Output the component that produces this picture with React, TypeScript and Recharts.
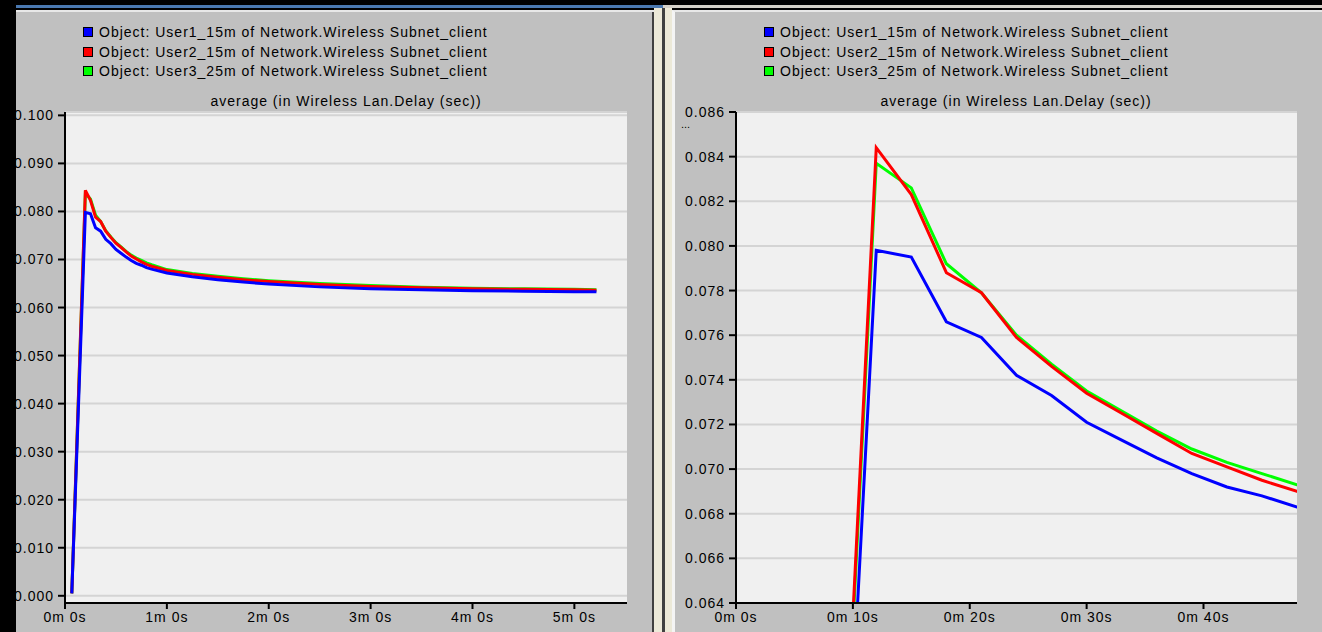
import React from "react";
import { LineChart, Line, XAxis, YAxis, CartesianGrid } from "recharts";

// sample times in seconds
const times = [4, 12, 15, 18, 21, 24, 27, 30, 33, 36, 39, 42, 45, 48, 51, 60, 75, 90, 105, 120, 150, 180, 210, 240, 270, 300, 313];

// average Wireless LAN delay (sec) per client
const user1Delay = [0.0005, 0.0798, 0.0795, 0.0766, 0.0759, 0.0742, 0.0733, 0.0721, 0.0713, 0.0705, 0.0698, 0.0692, 0.0688, 0.0683, 0.068, 0.0672, 0.0664, 0.0658, 0.0653, 0.0649, 0.0643, 0.0639, 0.0637, 0.0635, 0.0634, 0.0633, 0.0633];
const user2Delay = [0.0005, 0.0844, 0.0823, 0.0788, 0.0779, 0.0759, 0.0746, 0.0734, 0.0725, 0.0716, 0.0707, 0.0701, 0.0695, 0.069, 0.0686, 0.0677, 0.0669, 0.0663, 0.0658, 0.0654, 0.0648, 0.0644, 0.0641, 0.0639, 0.0638, 0.0637, 0.0636];
const user3Delay = [0.0005, 0.0837, 0.0826, 0.0792, 0.0779, 0.076, 0.0747, 0.0735, 0.0726, 0.0717, 0.0709, 0.0703, 0.0698, 0.0693, 0.0689, 0.0679, 0.0671, 0.0665, 0.066, 0.0656, 0.065, 0.0646, 0.0642, 0.064, 0.0639, 0.0638, 0.0637];

const legendItems = [
  { key: "user1", color: "#0000ff", label: "Object: User1_15m of Network.Wireless Subnet_client" },
  { key: "user2", color: "#ff0000", label: "Object: User2_15m of Network.Wireless Subnet_client" },
  { key: "user3", color: "#00ff00", label: "Object: User3_25m of Network.Wireless Subnet_client" },
];
// green under red under blue
const drawOrder = ["user3", "user2", "user1"];

const fullTicksX = [0, 60, 120, 180, 240, 300];
const fullTicksY = [0, 0.01, 0.02, 0.03, 0.04, 0.05, 0.06, 0.07, 0.08, 0.09, 0.1];
const zoomTicksX = [0, 10, 20, 30, 40];
const zoomTicksY = [0.064, 0.066, 0.068, 0.07, 0.072, 0.074, 0.076, 0.078, 0.08, 0.082, 0.084, 0.086];

const rows = times.map((t, i) => ({
  t,
  user1: user1Delay[i],
  user2: user2Delay[i],
  user3: user3Delay[i],
}));

const FONT = "'Liberation Sans', Arial, sans-serif";
const tickStyle = { fontSize: 14, fill: "#000", fontFamily: FONT, letterSpacing: 1 };

const fmtTime = (s: number) => `${Math.floor(s / 60)}m ${s % 60}s`;

type PanelProps = {
  left: number;
  width: number;
  yAxisWidth: number;
  xDomain: [number, number];
  yDomain: [number, number];
  xTicks: number[];
  yTicks: number[];
  clip: boolean;
};

const DelayChart = ({ left, width, yAxisWidth, xDomain, yDomain, xTicks, yTicks, clip }: PanelProps) => (
  <div style={{ position: "absolute", left, top: 0 }}>
    <LineChart width={width} height={632} data={rows} margin={{ top: 112, right: 25, bottom: 0, left: 0 }}>
      <CartesianGrid vertical={false} stroke="#d4d4d4" strokeWidth={2} fill="#f0f0f0" fillOpacity={1} />
      <XAxis
        dataKey="t"
        type="number"
        domain={xDomain}
        ticks={xTicks}
        allowDataOverflow={clip}
        tickFormatter={fmtTime}
        height={29}
        tickSize={6}
        tickMargin={3}
        tick={tickStyle}
        axisLine={{ stroke: "#000", strokeWidth: 2 }}
        tickLine={{ stroke: "#000", strokeWidth: 2 }}
      />
      <XAxis
        xAxisId="frame"
        orientation="top"
        type="number"
        domain={xDomain}
        height={0}
        tick={false}
        tickLine={false}
        axisLine={{ stroke: "#404040", strokeWidth: 2 }}
      />
      <YAxis
        type="number"
        domain={yDomain}
        ticks={yTicks}
        allowDataOverflow={clip}
        tickFormatter={(v: number) => v.toFixed(3)}
        width={yAxisWidth}
        tickSize={7}
        tickMargin={4}
        tick={tickStyle}
        axisLine={{ stroke: "#000", strokeWidth: 2 }}
        tickLine={{ stroke: "#000", strokeWidth: 2 }}
      />
      <YAxis
        yAxisId="frame"
        orientation="right"
        type="number"
        domain={yDomain}
        width={0}
        tick={false}
        tickLine={false}
        axisLine={{ stroke: "#404040", strokeWidth: 2 }}
      />
      {drawOrder.map((key) => (
        <Line
          key={key}
          dataKey={key}
          type="linear"
          stroke={legendItems.find((s) => s.key === key)!.color}
          strokeWidth={3}
          dot={false}
          isAnimationActive={false}
        />
      ))}
    </LineChart>
  </div>
);

const LegendBlock = ({ left, plotCenter }: { left: number; plotCenter: number }) => (
  <>
    {legendItems.map((item, i) => (
      <div
        key={item.key}
        style={{
          position: "absolute",
          left,
          top: 24 + i * 19.5,
          display: "flex",
          alignItems: "center",
          height: 16,
          fontFamily: FONT,
          fontSize: 14,
          letterSpacing: 1,
          color: "#000",
          whiteSpace: "nowrap",
        }}
      >
        <span
          style={{
            width: 8,
            height: 8,
            background: item.color,
            border: "1px solid #000",
            marginRight: 6,
          }}
        />
        {item.label}
      </div>
    ))}
    <div
      style={{
        position: "absolute",
        left: plotCenter - 200,
        width: 400,
        top: 93,
        textAlign: "center",
        fontFamily: FONT,
        fontSize: 14,
        letterSpacing: 1,
        lineHeight: "16px",
        color: "#000",
      }}
    >
      average (in Wireless Lan.Delay (sec))
    </div>
  </>
);

export default function App() {
  return (
    <div
      style={{
        position: "absolute",
        left: 0,
        top: 0,
        width: 1322,
        height: 632,
        background: "#000",
        overflow: "hidden",
      }}
    >
      {/* window title strips */}
      <div style={{ position: "absolute", left: 16, top: 5, width: 647, height: 3, background: "#4a78b0" }} />
      <div style={{ position: "absolute", left: 663, top: 5, width: 659, height: 3, background: "#d4d0c8" }} />

      {/* left panel */}
      <div style={{ position: "absolute", left: 16, top: 10, width: 638, height: 622, background: "#c0c0c0", borderTop: "2px solid #e8e8e8", boxSizing: "border-box" }} />
      <div style={{ position: "absolute", left: 652, top: 12, width: 2, height: 620, background: "#404040" }} />

      {/* splitter */}
      <div style={{ position: "absolute", left: 654, top: 8, width: 8, height: 624, background: "#ece9d8" }} />
      <div style={{ position: "absolute", left: 662, top: 8, width: 3, height: 624, background: "#404040" }} />
      <div style={{ position: "absolute", left: 665, top: 8, width: 7, height: 624, background: "#ece9d8" }} />

      {/* right panel */}
      <div style={{ position: "absolute", left: 672, top: 10, width: 650, height: 622, background: "#c0c0c0", borderTop: "2px solid #e8e8e8", borderLeft: "3px solid #f4f4f4", boxSizing: "border-box" }} />

      <DelayChart
        left={0}
        width={652}
        yAxisWidth={65}
        xDomain={[0, 331]}
        yDomain={[-0.0015, 0.1007]}
        xTicks={fullTicksX}
        yTicks={fullTicksY}
        clip={false}
      />
      <DelayChart
        left={660}
        width={662}
        yAxisWidth={76}
        xDomain={[0, 48]}
        yDomain={[0.064, 0.086]}
        xTicks={zoomTicksX}
        yTicks={zoomTicksY}
        clip={true}
      />

      <LegendBlock left={83} plotCenter={346} />
      <LegendBlock left={764} plotCenter={1016} />
      <div style={{ position: "absolute", left: 681, top: 118, fontFamily: FONT, fontSize: 11, color: "#000" }}>...</div>

      {/* black edge over the clipped left labels */}
      <div style={{ position: "absolute", left: 0, top: 0, width: 16, height: 632, background: "#000" }} />
    </div>
  );
}
